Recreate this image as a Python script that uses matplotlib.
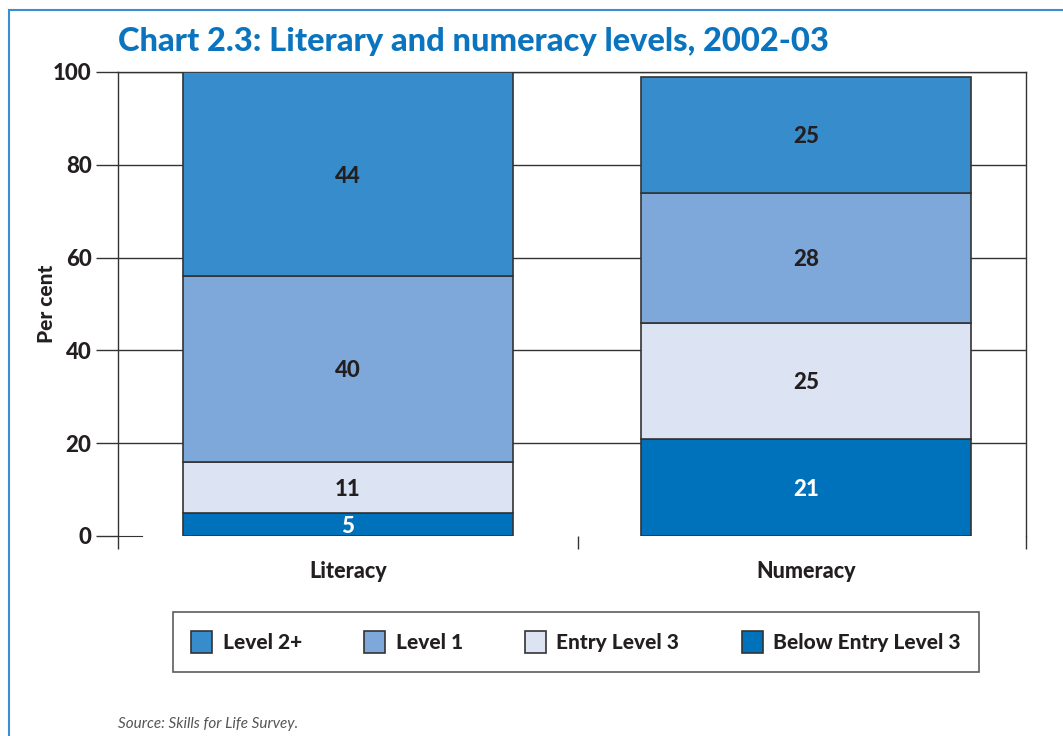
import matplotlib
matplotlib.use("Agg")
import matplotlib.pyplot as plt
from matplotlib.lines import Line2D
import numpy as np

plt.rcParams['font.family'] = ['Lato', 'DejaVu Sans']

categories = ["Literacy", "Numeracy"]
series_names = ["Below Entry Level 3", "Entry Level 3", "Level 1", "Level 2+"]
below_entry = [5, 21]
entry_level3 = [11, 25]
level1 = [40, 28]
level2plus = [44, 25]
yticks = [0, 20, 40, 60, 80, 100]

series = [below_entry, entry_level3, level1, level2plus]
colors = ["#0071BB", "#DCE4F4", "#7EA8DA", "#378DCC"]
label_colors = ["white", "#231F20", "#231F20", "#231F20"]
dark = "#231F20"
W = "black"  # heaviest available weight

fig = plt.figure(figsize=(10.63, 7.36), dpi=100)
ax = fig.add_axes([118 / 1063, 1 - 536 / 736, 908 / 1063, 464 / 736])

x = np.arange(len(categories))
bottom = np.zeros(len(categories))
bars = []
for vals, col, lc in zip(series, colors, label_colors):
    b = ax.bar(x, vals, 0.72, bottom=bottom, color=col, edgecolor="#333333",
               linewidth=1.2, zorder=3)
    bars.append(b)
    for xi, v, b0 in zip(x, vals, bottom):
        ax.text(xi, b0 + v / 2, str(v), ha="center", va="center_baseline",
                fontsize=16, fontweight=W, color=lc, zorder=4)
    bottom = bottom + np.array(vals)

ax.set_xlim(-0.502, 1.48)
ax.set_ylim(0, 100)
ax.set_yticks(yticks)
ax.set_yticklabels([str(t) for t in yticks], fontsize=16, fontweight=W, color=dark)
for t in yticks[1:]:
    ax.axhline(t, color="#333333", linewidth=1.0, zorder=1)

ax.tick_params(axis="y", direction="out", length=16, width=1.0, color="#333333", pad=3)
ax.set_xticks(x)
ax.set_xticklabels(categories, fontsize=15.5, fontweight=W, color=dark)
ax.tick_params(axis="x", length=0, pad=18)
ax.set_xticks([-0.502, 0.502, 1.48], minor=True)
ax.tick_params(axis="x", which="minor", direction="out", length=9, width=1.0, color="#333333")

for side in ["left", "right", "top"]:
    ax.spines[side].set_color("#333333")
    ax.spines[side].set_linewidth(1.0)
ax.spines["bottom"].set_color("#333333")
ax.spines["bottom"].set_bounds(-0.502, -0.45)

ax.set_ylabel("Per cent", fontsize=15, fontweight=W, color=dark)
ax.yaxis.set_label_coords(-0.068, 0.5)

fig.text(118 / 1063, 1 - 42 / 736, "Chart 2.3: Literary and numeracy levels, 2002-03",
         fontsize=23.5, fontweight=W, color="#0A74BE", va="center", ha="left")

fig.text(118 / 1063, 1 - 724 / 736, "Source: Skills for Life Survey.",
         fontsize=11, style="italic", color="#555555", va="center", ha="left")

# page frame
fig.add_artist(Line2D([9 / 1063, 9 / 1063], [0, 1 - 10 / 736], color="#3A8FD0", linewidth=1.5))
fig.add_artist(Line2D([9 / 1063, 1], [1 - 10 / 736, 1 - 10 / 736], color="#3A8FD0", linewidth=1.5))

order = [3, 2, 1, 0]
leg = fig.legend([bars[i] for i in order], [series_names[i] for i in order],
                 loc="center", bbox_to_anchor=(576 / 1063, 1 - 642 / 736), ncol=4,
                 frameon=True, fancybox=False, edgecolor="#333333",
                 prop={"size": 15, "weight": W}, borderpad=0.9,
                 columnspacing=3.0, handlelength=1.0, handleheight=1.3,
                 handletextpad=0.5)
leg.get_frame().set_linewidth(1.2)
for t in leg.get_texts():
    t.set_color(dark)

fig.savefig("out.png", dpi=100)
